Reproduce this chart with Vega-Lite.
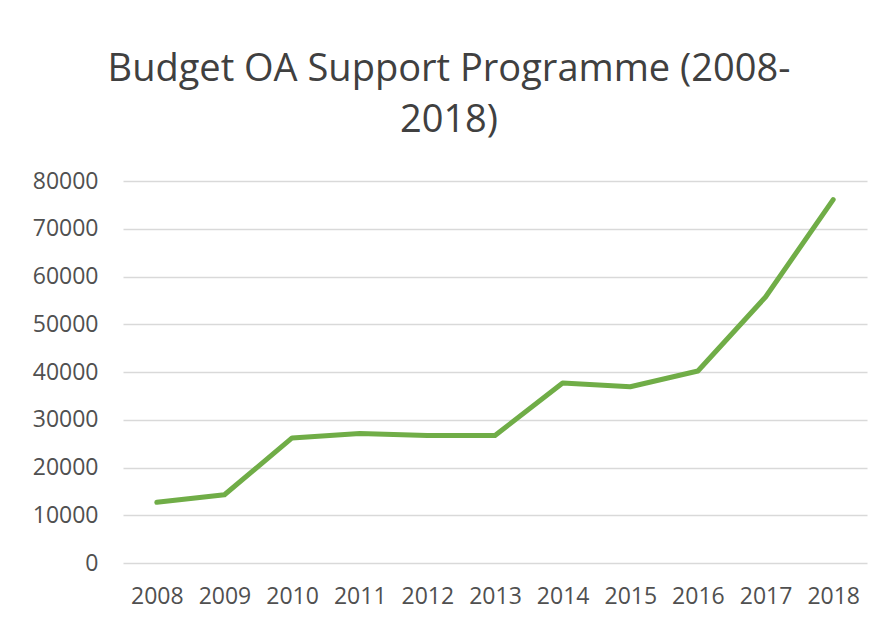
{
  "$schema": "https://vega.github.io/schema/vega-lite/v6.json",
  "width": 744,
  "height": 382,
  "autosize": "none",
  "padding": {"left": 123, "top": 181, "right": 19, "bottom": 63},
  "background": "white",
  "title": {
    "text": ["Budget OA Support Programme (2008-", "2018)"],
    "font": "Open Sans",
    "fontSize": 38,
    "fontWeight": "normal",
    "color": "#404040",
    "anchor": "middle",
    "dx": -46,
    "lineHeight": 51,
    "offset": 30
  },
  "data": {
    "values": [
      {"year": "2008", "budget": 12700},
      {"year": "2009", "budget": 14300},
      {"year": "2010", "budget": 26200},
      {"year": "2011", "budget": 27100},
      {"year": "2012", "budget": 26700},
      {"year": "2013", "budget": 26700},
      {"year": "2014", "budget": 37700},
      {"year": "2015", "budget": 36900},
      {"year": "2016", "budget": 40200},
      {"year": "2017", "budget": 55700},
      {"year": "2018", "budget": 76100}
    ]
  },
  "mark": {"type": "line", "color": "#70AD47", "strokeWidth": 5, "strokeJoin": "round", "strokeCap": "round"},
  "encoding": {
    "x": {
      "field": "year",
      "type": "ordinal",
      "scale": {"type": "point", "padding": 0.5},
      "axis": {
        "title": null,
        "labelAngle": 0,
        "domain": false,
        "ticks": false,
        "labelFont": "Open Sans",
        "labelFontSize": 23,
        "labelColor": "#505050",
        "labelPadding": 22
      }
    },
    "y": {
      "field": "budget",
      "type": "quantitative",
      "scale": {"domain": [0, 80000]},
      "axis": {
        "title": null,
        "values": [0, 10000, 20000, 30000, 40000, 50000, 60000, 70000, 80000],
        "format": "d",
        "domain": false,
        "ticks": false,
        "grid": true,
        "gridColor": "#D9D9D9",
        "gridWidth": 1.5,
        "labelFont": "Open Sans",
        "labelFontSize": 23,
        "labelColor": "#505050",
        "labelPadding": 25
      }
    }
  },
  "config": {"view": {"stroke": null}}
}
